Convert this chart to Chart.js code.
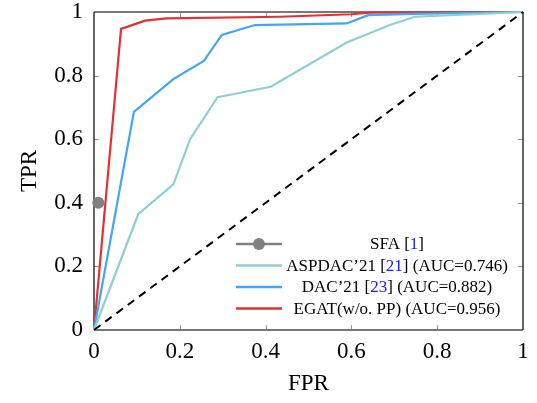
<!DOCTYPE html>
<html>
<head>
<meta charset="utf-8">
<script src="https://cdn.jsdelivr.net/npm/chart.js@4.4.1/dist/chart.umd.min.js"></script>
<style>
  html, body { margin: 0; padding: 0; background: #fff; }
  #wrap { width: 537px; height: 403px; }
</style>
</head>
<body>
<div id="wrap"><canvas id="roc" width="537" height="403"></canvas></div>
<script>
// ROC curves
const egatFpr   = [0, 0.063, 0.119, 0.169, 0.434, 0.60, 0.643, 1];
const egatTpr   = [0, 0.947, 0.973, 0.980, 0.985, 0.993, 0.998, 1];
const dacFpr    = [0, 0.093, 0.185, 0.256, 0.298, 0.375, 0.589, 0.639, 0.744, 1];
const dacTpr    = [0, 0.686, 0.789, 0.846, 0.928, 0.959, 0.964, 0.990, 0.994, 1];
const aspdacFpr = [0, 0.103, 0.185, 0.224, 0.288, 0.412, 0.589, 0.69, 0.748, 0.90, 1];
const aspdacTpr = [0, 0.364, 0.458, 0.600, 0.732, 0.765, 0.904, 0.959, 0.985, 0.994, 1];
const sfaFpr = [0.01];
const sfaTpr = [0.40];
const diagFpr = [0, 1];
const diagTpr = [0, 1];

const legendItems = [
  { parts: [['SFA [', '#000'], ['1', '#1a1aff'], [']', '#000']], color: '#808080', marker: true },
  { parts: [['ASPDAC’21 [', '#000'], ['21', '#1a1aff'], ['] (AUC=0.746)', '#000']], color: '#8fcfd1' },
  { parts: [['DAC’21 [', '#000'], ['23', '#1a1aff'], ['] (AUC=0.882)', '#000']], color: '#42a5f5' },
  { parts: [['EGAT(w/o. PP) (AUC=0.956)', '#000']], color: '#e53030' }
];

const pts = (xs, ys) => xs.map((x, i) => ({ x: x, y: ys[i] }));
const serif = '"Liberation Serif", "DejaVu Serif", serif';
const fmt = v => (v === 0 || v === 1) ? String(v) : v.toFixed(1);

const frame = {
  id: 'frame',
  beforeDatasetsDraw(chart) {
    const { ctx, chartArea: a, scales } = chart;
    ctx.save();
    // inward tick marks
    ctx.strokeStyle = '#999';
    ctx.lineWidth = 1;
    scales.x.ticks.forEach(t => {
      if (t.value <= 0 || t.value >= 1) return;
      const px = Math.round(scales.x.getPixelForValue(t.value)) + 0.5;
      ctx.beginPath();
      ctx.moveTo(px, a.bottom); ctx.lineTo(px, a.bottom - 5);
      ctx.moveTo(px, a.top); ctx.lineTo(px, a.top + 5);
      ctx.stroke();
    });
    scales.y.ticks.forEach(t => {
      if (t.value <= 0 || t.value >= 1) return;
      const py = Math.round(scales.y.getPixelForValue(t.value)) + 0.5;
      ctx.beginPath();
      ctx.moveTo(a.left, py); ctx.lineTo(a.left + 5, py);
      ctx.moveTo(a.right, py); ctx.lineTo(a.right - 5, py);
      ctx.stroke();
    });
    // box
    ctx.strokeStyle = '#777';
    ctx.lineWidth = 2;
    ctx.beginPath();
    ctx.moveTo(a.left, a.top); ctx.lineTo(a.right, a.top);
    ctx.moveTo(a.left, a.bottom); ctx.lineTo(a.right, a.bottom);
    ctx.stroke();
    ctx.strokeStyle = '#000';
    ctx.lineWidth = 1.2;
    ctx.beginPath();
    ctx.moveTo(a.left, a.top); ctx.lineTo(a.left, a.bottom);
    ctx.moveTo(a.right, a.top); ctx.lineTo(a.right, a.bottom);
    ctx.stroke();
    ctx.restore();
  }
};

const legendBox = {
  id: 'legendBox',
  afterDraw(chart) {
    const { ctx, chartArea: a } = chart;
    ctx.save();
    ctx.font = '17px ' + serif;
    ctx.textBaseline = 'middle';
    const lx0 = a.left + 142, lx1 = a.left + 188, cx = a.left + 303;
    legendItems.forEach((it, i) => {
      const y = a.top + 232 + i * 21.5;
      ctx.strokeStyle = it.color;
      ctx.lineWidth = 2.5;
      ctx.beginPath();
      ctx.moveTo(lx0, y); ctx.lineTo(lx1, y);
      ctx.stroke();
      if (it.marker) {
        ctx.fillStyle = it.color;
        ctx.beginPath();
        ctx.arc((lx0 + lx1) / 2, y, 6, 0, Math.PI * 2);
        ctx.fill();
      }
      const w = it.parts.reduce((s, p) => s + ctx.measureText(p[0]).width, 0);
      let x = cx - w / 2;
      it.parts.forEach(p => {
        ctx.fillStyle = p[1];
        ctx.fillText(p[0], x, y + 1);
        x += ctx.measureText(p[0]).width;
      });
    });
    ctx.restore();
  }
};

new Chart(document.getElementById('roc').getContext('2d'), {
  type: 'line',
  data: {
    datasets: [
      { data: pts(diagFpr, diagTpr), borderColor: '#000', borderWidth: 2, borderDash: [8, 6], pointRadius: 0 },
      { data: pts(aspdacFpr, aspdacTpr), borderColor: '#8fcfd1', borderWidth: 2.2, pointRadius: 0 },
      { data: pts(dacFpr, dacTpr), borderColor: '#42a5f5', borderWidth: 2.2, pointRadius: 0 },
      { data: pts(egatFpr, egatTpr), borderColor: '#e53030', borderWidth: 2.2, pointRadius: 0 },
      { data: pts(sfaFpr, sfaTpr), showLine: false, pointRadius: 6, pointBackgroundColor: '#808080', pointBorderWidth: 0 }
    ]
  },
  options: {
    responsive: false,
    animation: false,
    clip: false,
    layout: { padding: { top: 12, right: 14, left: 0, bottom: 0 } },
    plugins: { legend: { display: false }, tooltip: { enabled: false } },
    scales: {
      x: {
        type: 'linear', min: 0, max: 1,
        afterFit(s) { s.height = 73; s.paddingLeft = 0; s.paddingRight = 0; },
        grid: { display: false, drawTicks: false },
        border: { display: false },
        ticks: { stepSize: 0.2, color: '#000', padding: 8, callback: fmt, font: { family: serif, size: 23 } },
        title: { display: true, text: 'FPR', color: '#000', padding: { top: 0, bottom: 5 }, font: { family: serif, size: 23 } }
      },
      y: {
        type: 'linear', min: 0, max: 1,
        afterFit(s) { s.width = 94; s.paddingTop = 0; s.paddingBottom = 0; },
        grid: { display: false, drawTicks: false },
        border: { display: false },
        ticks: { stepSize: 0.2, color: '#000', padding: 11, callback: fmt, font: { family: serif, size: 23 } },
        title: { display: true, text: 'TPR', color: '#000', padding: { top: 16, bottom: 0 }, font: { family: serif, size: 23 } }
      }
    }
  },
  plugins: [frame, legendBox]
});
</script>
</body>
</html>
